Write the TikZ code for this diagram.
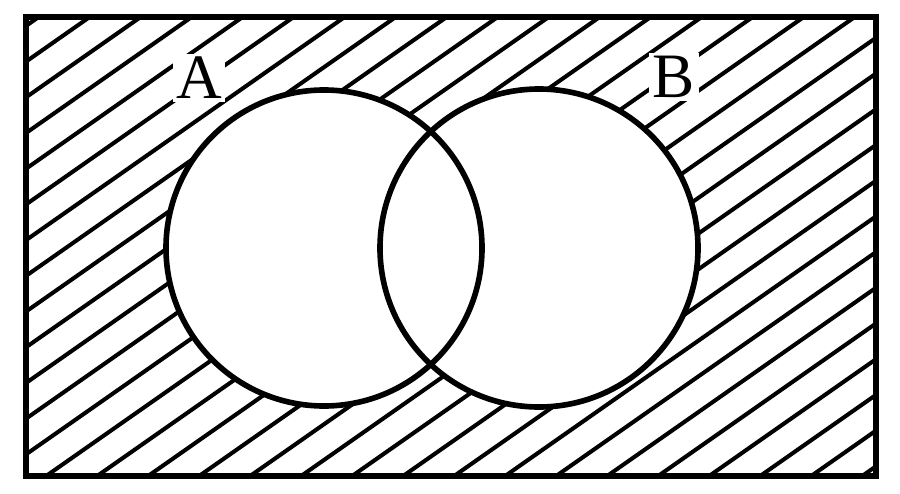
\documentclass[tikz,border=0pt]{standalone}
\usepackage{fontspec}
\setmainfont{Liberation Serif}
\begin{document}
\begin{tikzpicture}[x=0.1mm,y=-0.1mm]
\tikzset{hatch/.style={line width=1.15pt},
  setline/.style={line width=1.6pt},
  setlabel/.style={fill=white,inner sep=1pt,font=\fontsize{18}{21}\selectfont}}
\useasboundingbox (0,0) rectangle (900,493);

\coordinate(nw) at (26,17);
\coordinate(se) at (876,476);
\coordinate(cA) at (324,248);
\coordinate(cB) at (539,248);

% hatching of the complement
\begin{scope}
\clip (nw) rectangle (se);
\foreach \k in {-1,...,28}{
  \pgfmathsetmacro\c{114+51*\k}
  \draw[hatch] (\c,0) -- ({\c-857},600);
}
\end{scope}

\fill[white] (cA) circle[radius=158];
\fill[white] (cB) circle[radius=159];
\draw[setline] (cA) circle[radius=158];
\draw[setline] (cB) circle[radius=159];

\node(labA)[setlabel] at (199,78) {A};
\node(labB)[setlabel] at (674,77) {B};

\draw[line width=1.9pt] (nw) rectangle (se);
\end{tikzpicture}
\end{document}
